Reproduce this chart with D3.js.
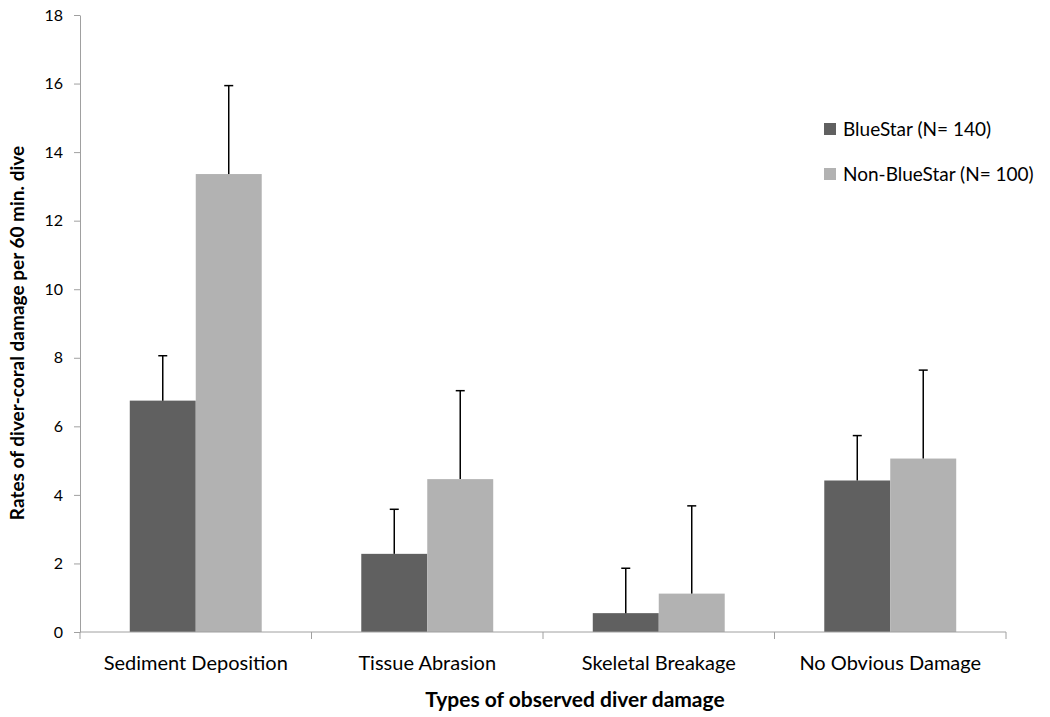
<!DOCTYPE html>
<html>
<head>
<meta charset="utf-8">
<script src="https://cdn.jsdelivr.net/npm/d3@7"></script>
<style>
  html, body { margin: 0; padding: 0; background: #fff; }
  svg { display: block; }
  text { font-family: Lato, "Open Sans", "DejaVu Sans", sans-serif; fill: #000; }
</style>
</head>
<body>
<svg id="chart" width="1050" height="717"></svg>
<script>
// Damage categories and group definitions
const categories = ["Sediment Deposition", "Tissue Abrasion", "Skeletal Breakage", "No Obvious Damage"];
const seriesNames = ["BlueStar (N= 140)", "Non-BlueStar (N= 100)"];
const seriesColors = ["#606060", "#b2b2b2"];

// Mean rates per 60 min dive
const blueStarMeans = [6.75, 2.28, 0.55, 4.42];
const nonBlueStarMeans = [13.36, 4.46, 1.12, 5.06];

// Upper ends of the error bars
const blueStarUpper = [8.06, 3.58, 1.86, 5.73];
const nonBlueStarUpper = [15.94, 7.04, 3.68, 7.64];

const yTicks = [0, 2, 4, 6, 8, 10, 12, 14, 16, 18];

const svg = d3.select("#chart");
const plotLeft = 80, plotRight = 1006, plotTop = 15, plotBottom = 632;

const x = d3.scaleBand().domain(categories).range([plotLeft, plotRight]).paddingInner(0).paddingOuter(0);
const bandW = x.bandwidth();
const groupW = bandW * 0.57;
const xs = d3.scaleBand().domain([0, 1]).range([0, groupW]);
const y = d3.scaleLinear().domain([0, 18]).range([plotBottom, plotTop]);

const data = categories.map((c, i) => ({
  cat: c,
  vals: [
    { s: 0, v: blueStarMeans[i], up: blueStarUpper[i] },
    { s: 1, v: nonBlueStarMeans[i], up: nonBlueStarUpper[i] }
  ]
}));

// Bars
const groups = svg.append("g").selectAll("g").data(data).join("g")
  .attr("transform", d => `translate(${x(d.cat) + (bandW - groupW) / 2},0)`);

groups.selectAll("rect").data(d => d.vals).join("rect")
  .attr("x", d => xs(d.s))
  .attr("width", xs.bandwidth())
  .attr("y", d => y(d.v))
  .attr("height", d => y(0) - y(d.v))
  .attr("fill", d => seriesColors[d.s]);

// Upper error bars
const capW = 9;
groups.selectAll("g.err").data(d => d.vals).join("g").attr("class", "err")
  .each(function (d) {
    const g = d3.select(this);
    const cx = xs(d.s) + xs.bandwidth() / 2;
    g.append("line").attr("x1", cx).attr("x2", cx).attr("y1", y(d.v)).attr("y2", y(d.up))
      .attr("stroke", "#000").attr("stroke-width", 1.5);
    g.append("line").attr("x1", cx - capW / 2).attr("x2", cx + capW / 2).attr("y1", y(d.up)).attr("y2", y(d.up))
      .attr("stroke", "#000").attr("stroke-width", 1.5);
  });

// Y axis
const yAxis = svg.append("g").attr("transform", `translate(${plotLeft},0)`)
  .call(d3.axisLeft(y).tickValues(yTicks).tickSize(6).tickPadding(11).tickSizeOuter(0));
yAxis.select(".domain").attr("stroke", "#a0a0a0");
yAxis.selectAll(".tick line").attr("stroke", "#a0a0a0");
yAxis.selectAll(".tick text").attr("font-size", 16).attr("font-family", "Lato, sans-serif");

// X axis: baseline with tick marks at category boundaries
const xAxis = svg.append("g").attr("transform", `translate(0,${plotBottom})`);
xAxis.append("line").attr("x1", plotLeft).attr("x2", plotRight).attr("y1", 0).attr("y2", 0)
  .attr("stroke", "#a0a0a0");
const bounds = categories.map(c => x(c)).concat([plotRight]);
xAxis.selectAll("line.tk").data(bounds).join("line").attr("class", "tk")
  .attr("x1", d => d).attr("x2", d => d).attr("y1", 0).attr("y2", 7)
  .attr("stroke", "#a0a0a0");
xAxis.selectAll("text").data(categories).join("text")
  .attr("x", d => x(d) + bandW / 2)
  .attr("y", 38)
  .attr("text-anchor", "middle")
  .attr("font-size", 20)
  .text(d => d);

// Axis titles
svg.append("text")
  .attr("x", 575).attr("y", 707)
  .attr("text-anchor", "middle")
  .attr("font-size", 21).attr("font-weight", "bold")
  .text("Types of observed diver damage");

svg.append("text")
  .attr("transform", "translate(24,333) rotate(-90)")
  .attr("text-anchor", "middle")
  .attr("font-size", 19).attr("font-weight", "bold")
  .text("Rates of diver-coral damage per 60 min. dive");

// Legend
const legend = svg.append("g").selectAll("g").data(seriesNames).join("g")
  .attr("transform", (d, i) => `translate(824,${129 + i * 45})`);
legend.append("rect").attr("x", 0).attr("y", -6).attr("width", 12).attr("height", 12)
  .attr("fill", (d, i) => seriesColors[i]);
legend.append("text").attr("x", 19).attr("y", 0).attr("dy", "0.35em")
  .attr("font-size", 19).text(d => d);
</script>
</body>
</html>
